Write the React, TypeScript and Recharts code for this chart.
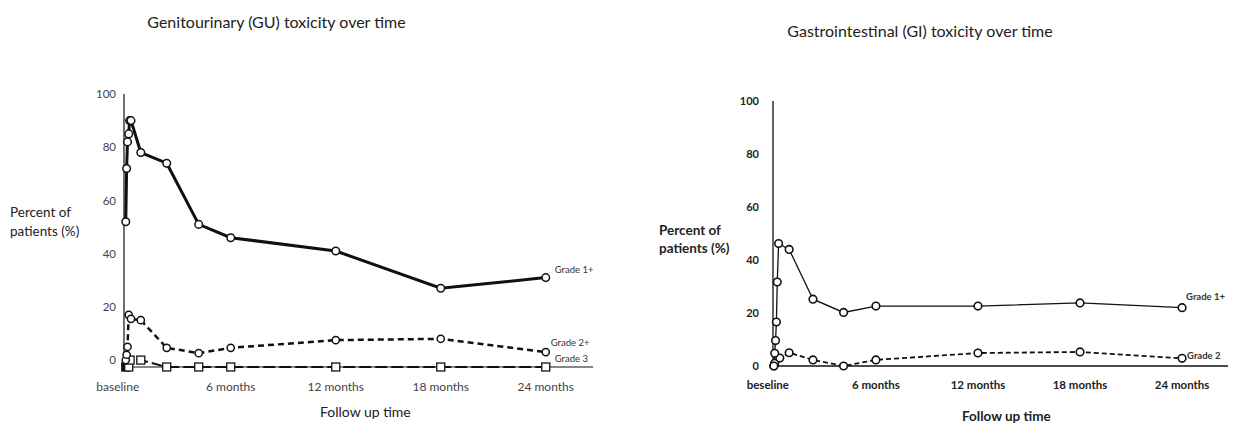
import React from "react"
import { Line, LineChart, XAxis, YAxis } from "recharts"

// months since start of treatment
const guGrade1Months = [0, 0.05, 0.1, 0.17, 0.22, 0.3, 0.86, 2.34, 4.17, 6, 12, 18, 24]
const guGrade1Values = [52, 72, 82, 85, 90, 90, 78, 74, 51, 46, 41, 27, 31]

const guGrade2Months = [0, 0.05, 0.1, 0.17, 0.3, 0.86, 2.34, 4.17, 6, 12, 18, 24]
const guGrade2Values = [0, 2, 5, 17, 15.5, 15, 4.6, 2.6, 4.6, 7.5, 8, 3]

const guGrade3Months = [0, 0.17, 0.25, 0.86, 2.34, 4.17, 6, 12, 18, 24]
const guGrade3Values = [-2.6, -2.6, 0, 0, -2.6, -2.6, -2.6, -2.6, -2.6, -2.6]

const giGrade1Months = [0, 0.05, 0.1, 0.15, 0.2, 0.28, 0.9, 2.3, 4.1, 6, 12, 18, 24]
const giGrade1Values = [0, 4.8, 9.6, 16.6, 31.7, 46.2, 44, 25.2, 20.2, 22.6, 22.6, 23.8, 22]

const giGrade2Months = [0, 0.05, 0.35, 0.9, 2.3, 4.1, 6, 12, 18, 24]
const giGrade2Values = [0, 1, 3, 5, 2.3, 0, 2.3, 4.9, 5.3, 2.9]

const tickMonths = [0, 6, 12, 18, 24]
const guTickLabels = ["baseline", "6 months", "12 months", "18 months", "24 months"]
const giTickLabels = ["beseline", "6 months", "12 months", "18 months", "24 months"]
const yTicks = [0, 20, 40, 60, 80, 100]

const toRows = (months: number[], values: number[]) => months.map((m, i) => ({ month: m, value: values[i] }))

const guGrade1 = toRows(guGrade1Months, guGrade1Values)
const guGrade2 = toRows(guGrade2Months, guGrade2Values)
const guGrade3 = toRows(guGrade3Months, guGrade3Values)
const giGrade1 = toRows(giGrade1Months, giGrade1Values)
const giGrade2 = toRows(giGrade2Months, giGrade2Values)

const INK = "#111"

const circleDot = (r: number, sw: number) => (props: any) => {
  const { cx, cy, index } = props
  if (cx == null || cy == null) return <g key={index} />
  return <circle key={index} cx={cx} cy={cy} r={r} fill="#fff" stroke={INK} strokeWidth={sw} />
}

const squareDot = (props: any) => {
  const { cx, cy, index } = props
  if (cx == null || cy == null) return <g key={index} />
  return (
    <rect
      key={index}
      x={cx - 4}
      y={cy - 4}
      width={8}
      height={8}
      fill={index === 0 ? INK : "#fff"}
      stroke={INK}
      strokeWidth={1.3}
    />
  )
}

const endLabel = (text: string, last: number, dx: number, dy: number, bold = false) => (props: any) => {
  const { x, y, index } = props
  if (index !== last) return null
  return (
    <text x={x + dx} y={y + dy} fontSize={9.5} fill="#333" fontWeight={bold ? 700 : 400} dominantBaseline="central">
      {text}
    </text>
  )
}

const monthTick = (labels: string[], dy: number, bold: boolean, baseShift: number) => (props: any) => {
  const { x, y, payload } = props
  const i = tickMonths.indexOf(payload.value)
  return (
    <text
      x={x + (i === 0 ? baseShift : 0)}
      y={y}
      dy={dy}
      textAnchor="middle"
      fontSize={bold ? 11.5 : 12}
      fontWeight={bold ? 700 : 400}
      fill={bold ? "#222" : "#444"}
    >
      {labels[i]}
    </text>
  )
}

const textStyle: React.CSSProperties = { position: "absolute", color: "#222", whiteSpace: "nowrap", lineHeight: 1 }

export default function App() {
  return (
    <div
      style={{
        position: "absolute",
        left: 0,
        top: 0,
        width: 1234,
        height: 428,
        overflow: "hidden",
        background: "#fff",
        fontFamily: "Lato",
      }}
    >
      <div style={{ position: "absolute", left: 0, top: 0 }}>
        <LineChart width={617} height={428} margin={{ top: 94, right: 24, bottom: 31, left: 94 }}>
          <XAxis
            type="number"
            dataKey="month"
            domain={[-0.1, 26.7]}
            ticks={tickMonths}
            allowDuplicatedCategory={false}
            tickLine={false}
            height={30}
            axisLine={{ stroke: INK, strokeWidth: 1.2 }}
            tick={monthTick(guTickLabels, 16, false, -8)}
          />
          <YAxis
            type="number"
            domain={[-2.6, 100]}
            ticks={yTicks}
            width={30}
            tickLine={false}
            axisLine={{ stroke: INK, strokeWidth: 1.2 }}
            tick={{ fill: "#444", fontSize: 11.5 }}
          />
          <Line
            data={guGrade3}
            dataKey="value"
            type="linear"
            stroke={INK}
            strokeWidth={2}
            strokeDasharray="12 4"
            dot={squareDot}
            label={endLabel("Grade 3", guGrade3.length - 1, 9, -9)}
            isAnimationActive={false}
          />
          <Line
            data={guGrade2}
            dataKey="value"
            type="linear"
            stroke={INK}
            strokeWidth={2.5}
            strokeDasharray="6 4"
            dot={circleDot(3.6, 1.5)}
            label={endLabel("Grade 2+", guGrade2.length - 1, 5, -10)}
            isAnimationActive={false}
          />
          <Line
            data={guGrade1}
            dataKey="value"
            type="linear"
            stroke={INK}
            strokeWidth={3}
            dot={circleDot(3.8, 1.5)}
            label={endLabel("Grade 1+", guGrade1.length - 1, 9, -8)}
            isAnimationActive={false}
          />
        </LineChart>
      </div>

      <div style={{ position: "absolute", left: 617, top: 0 }}>
        <LineChart width={617} height={428} margin={{ top: 101, right: 6, bottom: 32, left: 126 }}>
          <XAxis
            type="number"
            dataKey="month"
            domain={[-0.05, 26.7]}
            ticks={tickMonths}
            allowDuplicatedCategory={false}
            tickLine={false}
            height={30}
            axisLine={{ stroke: INK, strokeWidth: 1.3 }}
            tick={monthTick(giTickLabels, 15, true, -6)}
          />
          <YAxis
            type="number"
            domain={[0, 100]}
            ticks={yTicks}
            width={30}
            tickLine={false}
            tickMargin={8}
            axisLine={{ stroke: INK, strokeWidth: 1.3 }}
            tick={{ fill: "#222", fontSize: 11, fontWeight: 700 }}
          />
          <Line
            data={giGrade2}
            dataKey="value"
            type="linear"
            stroke={INK}
            strokeWidth={1.8}
            strokeDasharray="5 3"
            dot={circleDot(3.8, 1.6)}
            label={endLabel("Grade 2", giGrade2.length - 1, 5, -3, true)}
            isAnimationActive={false}
          />
          <Line
            data={giGrade1}
            dataKey="value"
            type="linear"
            stroke={INK}
            strokeWidth={1.3}
            dot={circleDot(3.8, 1.6)}
            label={endLabel("Grade 1+", giGrade1.length - 1, 4, -11, true)}
            isAnimationActive={false}
          />
        </LineChart>
      </div>

      <div style={{ ...textStyle, left: 0, width: 553, top: 14, textAlign: "center", fontSize: 16 }}>
        Genitourinary  (GU) toxicity over time
      </div>
      <div style={{ ...textStyle, left: 0, width: 1840, top: 23, textAlign: "center", fontSize: 16 }}>
        Gastrointestinal (GI) toxicity over time
      </div>

      <div style={{ ...textStyle, left: 10, top: 203, fontSize: 13.5, lineHeight: "19px" }}>
        Percent of
        <br />
        patients (%)
      </div>
      <div style={{ ...textStyle, left: 659, top: 221, fontSize: 13.5, fontWeight: 700, lineHeight: "18px" }}>
        Percent of
        <br />
        patients (%)
      </div>

      <div style={{ ...textStyle, left: 320, top: 405, fontSize: 14 }}>Follow up time</div>
      <div style={{ ...textStyle, left: 962, top: 410, fontSize: 13.5, fontWeight: 700 }}>Follow up time</div>
    </div>
  )
}
